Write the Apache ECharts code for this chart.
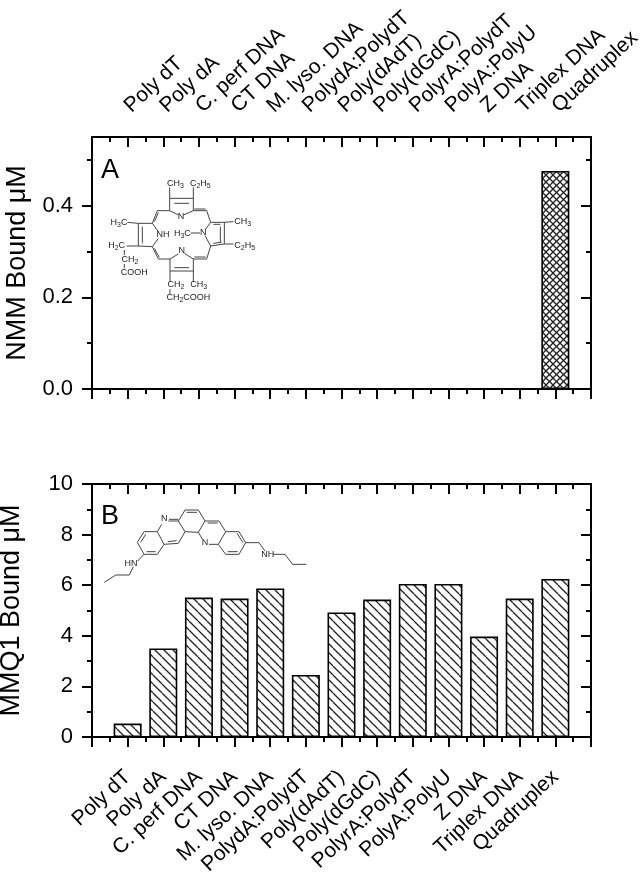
<!DOCTYPE html>
<html>
<head>
<meta charset="utf-8">
<style>
  html, body { margin: 0; padding: 0; background: #fff; }
  #chart { width: 644px; height: 879px; }
</style>
<script src="https://cdn.jsdelivr.net/npm/echarts@6/dist/echarts.min.js"></script>
</head>
<body>
<div id="chart"></div>
<script>
const categories = ["Poly dT", "Poly dA", "C. perf DNA", "CT DNA", "M. lyso. DNA", "PolydA:PolydT",
  "Poly(dAdT)", "Poly(dGdC)", "PolyrA:PolydT", "PolyA:PolyU", "Z DNA", "Triplex DNA", "Quadruplex"];
const nmmBound = [0, 0, 0, 0, 0, 0, 0, 0, 0, 0, 0, 0, 0.476];
const mmqBound = [0.53, 3.5, 5.51, 5.47, 5.87, 2.45, 4.92, 5.43, 6.05, 6.05, 3.97, 5.47, 6.25];
const nmmTicks = [0, 0.2, 0.4];
const nmmMinorTicks = [0.1, 0.3, 0.5];
const mmqTicks = [0, 2, 4, 6, 8, 10];
const mmqMinorTicks = [1, 3, 5, 7, 9];

const FONT = "Liberation Sans";
const chart = echarts.init(document.getElementById("chart"));

function hatchTile(size, both) {
  const c = document.createElement("canvas");
  c.width = c.height = size;
  const g = c.getContext("2d");
  g.fillStyle = "#fff";
  g.fillRect(0, 0, size, size);
  g.strokeStyle = "#222";
  g.lineWidth = 1.3;
  for (let o = -size; o <= size; o += size) {
    g.beginPath();
    g.moveTo(o, 0);
    g.lineTo(o + size, size);
    g.stroke();
    if (both) {
      g.beginPath();
      g.moveTo(o + size, 0);
      g.lineTo(o, size);
      g.stroke();
    }
  }
  return c;
}

function xAxis(gridIndex, position, showLabels, inside) {
  return {
    type: "value", gridIndex, position, min: 0, max: 14, interval: 1,
    splitLine: { show: false },
    axisLine: { show: true, onZero: false, lineStyle: { color: "#000", width: 2 } },
    axisTick: { show: true, inside, length: 10, lineStyle: { color: "#000", width: 2 } },
    minorTick: { show: true, splitNumber: 2, length: 5, lineStyle: { color: "#000", width: 2 } },
    axisLabel: {
      show: showLabels, rotate: position === "top" ? -43 : 43, margin: position === "top" ? 28 : 37,
      fontFamily: FONT, fontSize: 21, color: "#000",
      formatter: (v) => categories[v - 1] || ""
    }
  };
}

// left and right axis, each split in a major and a minor layer: the top of panel A is not a tick
function yAxes(gridIndex, max, ticks, minorTicks, name, nameGap, digits) {
  const base = (position, values, length, inside) => ({
    type: "value", gridIndex, position, min: 0, max,
    splitLine: { show: false },
    axisLine: { show: true, onZero: false, lineStyle: { color: "#000", width: 2 } },
    axisTick: { show: true, inside, length, customValues: values, lineStyle: { color: "#000", width: 2 } },
    axisLabel: { show: false }
  });
  const main = base("left", ticks, 10, false);
  main.name = name;
  main.nameLocation = "middle";
  main.nameGap = nameGap;
  main.nameTextStyle = { fontFamily: FONT, fontSize: 27, color: "#000" };
  main.axisLabel = {
    show: true, margin: 19, customValues: ticks,
    fontFamily: FONT, fontSize: 22, color: "#000",
    formatter: (v) => v.toFixed(digits)
  };
  return [main, base("left", minorTicks, 5, false), base("right", ticks, 10, true), base("right", minorTicks, 5, true)];
}

function barSeries(values, xAxisIndex, yAxisIndex, pattern) {
  return {
    type: "bar", xAxisIndex, yAxisIndex, barWidth: 28,
    data: values.map((v, i) => [i + 1, v]),
    itemStyle: { color: { image: pattern, repeat: "repeat" }, borderColor: "#000", borderWidth: 1.6 },
    silent: true
  };
}

// structure drawings, in pixels of the page
function bonds(segments, ox, oy) {
  return segments.map((s) => ({
    type: "polyline", silent: true,
    shape: { points: s.map((p) => [ox + p[0] / 3, oy + p[1] / 3]) },
    style: { stroke: "#444", lineWidth: 1, fill: null }
  }));
}

function chemLabels(labels, ox, oy) {
  return labels.map((l) => ({
    type: "text", silent: true, x: ox + l[1] / 3, y: oy + l[2] / 3,
    style: {
      text: l[0].replace(/([A-Za-z])(\d)/g, "$1{s|$2}"),
      rich: { s: { fontSize: 7, fontFamily: FONT, fill: "#222", verticalAlign: "bottom", lineHeight: 12 } },
      font: "9px " + FONT, fill: "#222", align: "center", verticalAlign: "middle"
    }
  }));
}

const nmmBonds = [
  [[250, 135], [224, 122], [224, 85], [295, 85], [295, 122], [265, 135]], [[238, 100], [282, 100]],
  [[224, 85], [224, 52]], [[295, 85], [295, 52]],
  [[224, 122], [187, 122], [172, 160]], [[190, 128], [178, 155]],
  [[295, 122], [335, 122], [347, 157]], [[298, 117], [332, 117]],
  [[190, 185], [172, 160], [130, 160], [130, 228], [172, 230], [190, 205]], [[142, 170], [142, 220]],
  [[130, 160], [97, 157]], [[130, 228], [95, 228]],
  [[88, 240], [88, 255]], [[88, 282], [88, 295]],
  [[172, 230], [190, 267], [225, 267], [250, 252]], [[178, 235], [193, 262]],
  [[268, 250], [295, 267], [295, 303], [225, 303], [225, 267]], [[238, 293], [282, 293]],
  [[225, 303], [225, 335]], [[295, 303], [295, 335]], [[225, 358], [225, 372]],
  [[295, 267], [335, 267], [347, 228]], [[298, 261], [332, 261]],
  [[330, 180], [347, 157], [388, 157], [388, 222], [347, 228], [330, 197]], [[355, 163], [376, 163]], [[376, 170], [376, 216]], [[355, 220], [380, 217]],
  [[388, 157], [415, 155]], [[388, 222], [415, 222]], [[287, 189], [315, 189]]
];
const nmmLabels = [
  ["CH3", 241, 41], ["C2H5", 316, 41], ["N", 258, 140], ["H3C", 72, 158], ["NH", 204, 194], ["H3C", 262, 190], ["N", 325, 188],
  ["CH3", 443, 155], ["C2H5", 449, 228], ["H2C", 65, 228], ["CH2", 105, 268], ["COOH", 118, 308], ["N", 260, 242],
  ["CH2", 243, 345], ["CH3", 311, 345], ["CH2COOH", 280, 383]
];
const mmqBonds = [
  [[127, 142], [147, 110], [187, 110], [207, 148], [187, 178], [147, 178], [127, 142]],
  [[187, 110], [200, 88]], [[220, 78], [250, 78], [270, 110], [250, 145], [207, 148]],
  [[250, 78], [270, 45], [310, 45], [330, 78], [310, 112], [270, 110]],
  [[330, 78], [372, 78], [392, 110], [370, 148], [342, 148]], [[310, 112], [322, 132]],
  [[392, 110], [432, 110], [452, 143], [432, 178], [392, 178], [370, 148]],
  [[137, 142], [152, 118]], [[155, 170], [182, 170]], [[218, 140], [245, 137]], [[222, 73], [250, 73]],
  [[275, 52], [306, 52]], [[338, 84], [368, 84]], [[398, 170], [428, 170]], [[426, 115], [444, 143]],
  [[452, 143], [492, 143], [510, 168]], [[535, 178], [570, 178], [593, 208], [634, 208]],
  [[147, 178], [128, 198]], [[115, 215], [103, 240], [62, 240], [28, 262]]
];
const mmqLabels = [["N", 208, 72], ["N", 330, 143], ["NH", 518, 178], ["HN", 108, 205]];

chart.setOption({
  backgroundColor: "#fff",
  animation: false,
  grid: [
    { left: 92, top: 137, width: 499, height: 252, outerBoundsMode: "none" },
    { left: 92, top: 484, width: 499, height: 253, outerBoundsMode: "none" }
  ],
  xAxis: [xAxis(0, "top", true, true), xAxis(0, "bottom", false, false), xAxis(1, "top", false, true), xAxis(1, "bottom", true, false)],
  yAxis: [
    ...yAxes(0, 0.55, nmmTicks, nmmMinorTicks, "NMM Bound μM", 61, 1),
    ...yAxes(1, 10, mmqTicks, mmqMinorTicks, "MMQ1 Bound μM", 67, 0)
  ],
  series: [barSeries(nmmBound, 1, 0, hatchTile(7, true)), barSeries(mmqBound, 3, 4, hatchTile(9, false))],
  graphic: [
    { type: "text", x: 101, y: 157, silent: true, style: { text: "A", font: "27px " + FONT, fill: "#000" } },
    { type: "text", x: 101, y: 503, silent: true, style: { text: "B", font: "27px " + FONT, fill: "#000" } },
    ...bonds(nmmBonds, 95, 170), ...chemLabels(nmmLabels, 95, 170),
    ...bonds(mmqBonds, 95, 495), ...chemLabels(mmqLabels, 95, 495)
  ]
});
</script>
</body>
</html>
